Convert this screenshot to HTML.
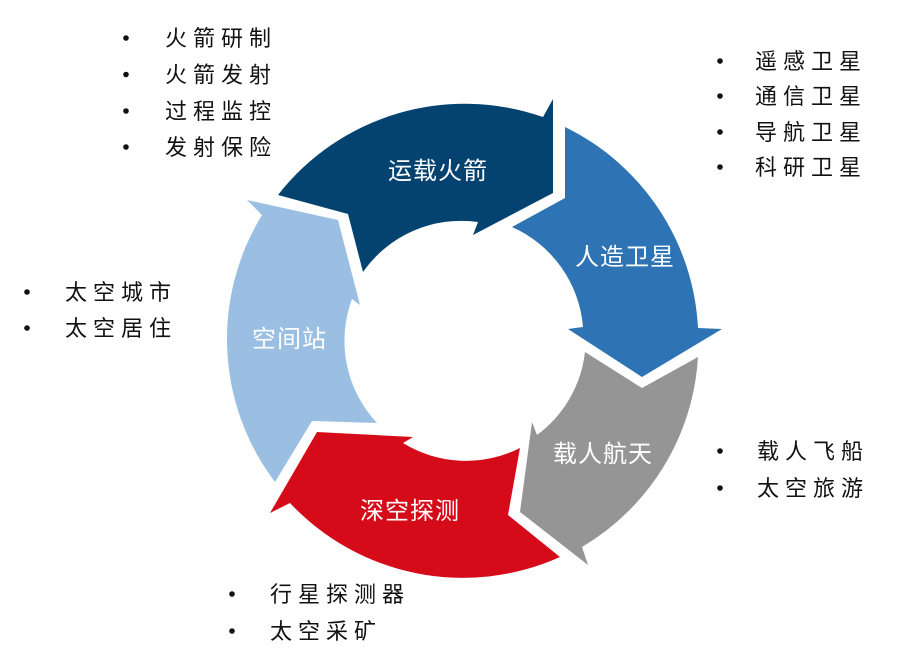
<!DOCTYPE html>
<html>
<head>
<meta charset="utf-8">
<style>
html,body{margin:0;padding:0;background:#fff;}
body{width:916px;height:648px;overflow:hidden;}
svg{display:block;}
.l{font-family:"Liberation Sans","Noto Sans CJK SC",sans-serif;font-size:22px;fill:#111;letter-spacing:6px;}
.w{font-family:"Liberation Sans","Noto Sans CJK SC",sans-serif;font-size:24px;fill:#fff;letter-spacing:1px;}
</style>
</head>
<body>
<svg width="916" height="648" viewBox="0 0 916 648" xmlns="http://www.w3.org/2000/svg">
  <!-- dark blue: 运载火箭 -->
  <path d="M278,195 A237,237 0 0 1 543,117 L553,99 L553,193 L473,235 L478,222 A120,120 0 0 0 363,272 L348,214 Z" fill="#04426F"/>
  <!-- blue: 人造卫星 -->
  <path d="M565,127 A237,237 0 0 1 698,328 L722,329 L642,377 L568,329 L583,327 A120,120 0 0 0 512,227 L565,198 Z" fill="#2E74B5"/>
  <!-- gray: 载人航天 -->
  <path d="M698,357 A237,237 0 0 1 582,547 L588,565 L520,512 L532,422 L537,435 A120,120 0 0 0 585,352 L642,388 Z" fill="#959595"/>
  <!-- red: 深空探测 -->
  <path d="M560,557 A237,237 0 0 1 290,503 L270,513 L317,432 L413,437 L403,443 A120,120 0 0 0 520,448 L508,515 Z" fill="#D60B19"/>
  <!-- light blue: 空间站 -->
  <path d="M275,482 A237,237 0 0 1 262,215 L247,200 L338,220 L360,305 L352,299 A120,120 0 0 0 377,423 L312,421 Z" fill="#9BBFE3"/>

  <!-- inner labels -->
  <text class="w" x="388" y="179">运载火箭</text>
  <text class="w" x="575" y="265">人造卫星</text>
  <text class="w" x="252" y="347">空间站</text>
  <text class="w" x="553" y="462">载人航天</text>
  <text class="w" x="360" y="519">深空探测</text>

  <!-- top-left list -->
  <g fill="#111">
    <circle cx="126" cy="38" r="2.8"/>
    <circle cx="126" cy="74.5" r="2.8"/>
    <circle cx="126" cy="111" r="2.8"/>
    <circle cx="126" cy="147" r="2.8"/>
  </g>
  <text class="l" x="165" y="46">火箭研制</text>
  <text class="l" x="165" y="82.5">火箭发射</text>
  <text class="l" x="165" y="119">过程监控</text>
  <text class="l" x="165" y="155">发射保险</text>

  <!-- top-right list -->
  <g fill="#111">
    <circle cx="720" cy="61" r="2.8"/>
    <circle cx="720" cy="96" r="2.8"/>
    <circle cx="720" cy="132" r="2.8"/>
    <circle cx="720" cy="167" r="2.8"/>
  </g>
  <text class="l" x="755" y="69">遥感卫星</text>
  <text class="l" x="755" y="104">通信卫星</text>
  <text class="l" x="755" y="140">导航卫星</text>
  <text class="l" x="755" y="175">科研卫星</text>

  <!-- left-middle list -->
  <g fill="#111">
    <circle cx="27" cy="292" r="2.8"/>
    <circle cx="27" cy="328" r="2.8"/>
  </g>
  <text class="l" x="65" y="300">太空城市</text>
  <text class="l" x="65" y="336">太空居住</text>

  <!-- right-bottom list -->
  <g fill="#111">
    <circle cx="720" cy="451" r="2.8"/>
    <circle cx="720" cy="488" r="2.8"/>
  </g>
  <text class="l" x="757" y="459">载人飞船</text>
  <text class="l" x="757" y="496">太空旅游</text>

  <!-- bottom list -->
  <g fill="#111">
    <circle cx="232" cy="594" r="2.8"/>
    <circle cx="232" cy="631" r="2.8"/>
  </g>
  <text class="l" x="270" y="602">行星探测器</text>
  <text class="l" x="270" y="639">太空采矿</text>
</svg>
</body>
</html>
